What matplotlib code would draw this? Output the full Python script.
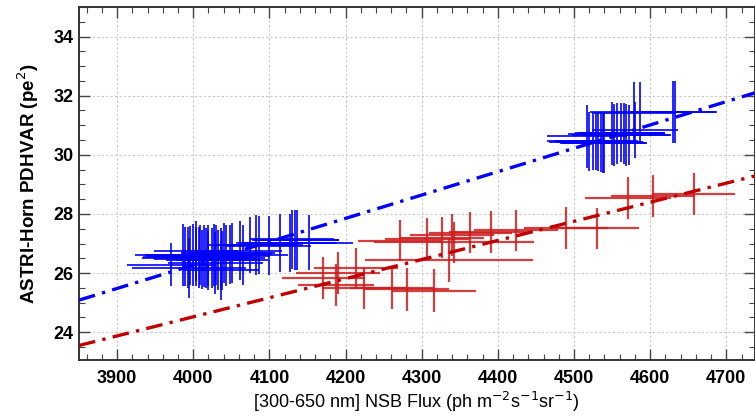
import numpy as np
import matplotlib
matplotlib.use("Agg")
import matplotlib.pyplot as plt

# ---------------- data ----------------
blue_x = [3971, 3986, 3989, 3993, 3994, 3996, 4000, 4003, 4004, 4007, 4009, 4011, 4014,
          4017, 4019, 4020, 4025, 4027, 4029, 4030, 4033, 4036, 4037, 4038, 4040, 4043,
          4048, 4051, 4061, 4066, 4075, 4083, 4086, 4099, 4114, 4127, 4130, 4134, 4136, 4152,
          4517, 4520, 4525, 4529, 4532, 4536, 4538, 4540, 4550, 4553, 4557, 4562, 4565,
          4568, 4572, 4579, 4580, 4587, 4630, 4632]
blue_y = [26.29, 26.61, 26.56, 26.52, 26.17, 26.58, 26.61, 26.75, 26.56, 26.52, 26.61, 26.47, 26.58,
          26.50, 26.58, 26.44, 26.50, 26.61, 26.35, 26.61, 26.44, 26.50, 26.10, 26.44, 26.67, 26.58,
          26.64, 26.67, 26.75, 26.61, 26.95, 26.95, 26.95, 26.92, 27.03, 27.03, 27.14, 27.12, 27.12, 27.03,
          30.63, 30.46, 30.44, 30.47, 30.44, 30.42, 30.41, 30.40, 30.72, 30.67, 30.73, 30.75, 30.73,
          30.67, 30.67, 31.40, 30.83, 31.44, 31.45, 31.45]
blue_xerr = [58, 62, 55, 60, 75, 57, 63, 55, 58, 60, 56, 62, 55,
             58, 60, 56, 58, 55, 62, 57, 55, 58, 50, 60, 56, 58,
             55, 57, 56, 58, 57, 55, 58, 56, 58, 60, 55, 57, 56, 58,
             53, 55, 58, 55, 56, 55, 57, 56, 58, 55, 56, 57, 55,
             58, 56, 55, 57, 66, 55, 56]
blue_yerr = [0.74, 1.05, 1.00, 1.03, 1.02, 1.00, 1.05, 1.02, 1.00, 1.03, 1.02, 1.00, 1.05,
             1.02, 1.03, 1.00, 1.02, 1.04, 1.05, 1.00, 1.02, 1.03, 1.00, 1.00, 1.02, 1.03,
             1.00, 1.02, 1.00, 1.02, 0.95, 1.00, 0.98, 1.00, 0.98, 0.98, 1.00, 1.00, 1.03, 0.92,
             1.07, 1.00, 0.95, 0.98, 0.98, 1.00, 1.02, 1.03, 1.05, 1.05, 1.03, 1.00, 1.03,
             1.05, 1.00, 1.05, 0.95, 1.03, 1.05, 1.05]

red_x = [4171, 4187, 4190, 4214, 4224, 4261, 4281, 4316, 4336, 4271, 4307, 4327,
         4340, 4343, 4364, 4391, 4424, 4489, 4530, 4571, 4604, 4657]
red_y = [25.83, 25.59, 26.00, 26.16, 25.49, 25.49, 25.45, 25.41, 26.43, 27.10, 27.15, 27.20,
         27.29, 27.04, 27.37, 27.39, 27.45, 27.52, 27.51, 28.54, 28.60, 28.66]
red_xerr = [55, 50, 55, 55, 55, 55, 55, 55, 110, 55, 55, 55,
            55, 105, 55, 55, 55, 55, 55, 57, 55, 55]
red_yerr = [0.70, 0.72, 0.70, 0.70, 0.72, 0.72, 0.72, 0.72, 0.72, 0.70, 0.70, 0.70,
            0.70, 0.70, 0.70, 0.70, 0.70, 0.70, 0.70, 0.71, 0.71, 0.71]

# linear fits (slope, value at x=4000)
blue_fit = (0.00790, 26.27)
red_fit = (0.00646, 24.52)

x_ticks = [3900, 4000, 4100, 4200, 4300, 4400, 4500, 4600, 4700]
y_ticks = [24, 26, 28, 30, 32, 34]

# ---------------- figure ----------------
plt.rcParams['font.family'] = ['Liberation Sans', 'DejaVu Sans']
fig = plt.figure(figsize=(7.55, 4.19), dpi=100)
ax = fig.add_axes([79 / 755, 1 - 360 / 419, (754.5 - 79) / 755, (360 - 7) / 419])

xlim = (3850, 4737)
ylim = (23.06, 35.0)

ax.grid(True, color='#c8c8c8', linestyle=(0, (2, 2)), linewidth=0.8, zorder=0)

ax.errorbar(red_x, red_y, xerr=red_xerr, yerr=red_yerr, fmt='none',
            ecolor='#cc1e1e', alpha=0.85, elinewidth=1.6, capsize=0, zorder=2)
ax.errorbar(blue_x, blue_y, xerr=blue_xerr, yerr=blue_yerr, fmt='none',
            ecolor='#0000ff', alpha=0.85, elinewidth=1.4, capsize=0, zorder=3)

xx = np.array(xlim)
ax.plot(xx, blue_fit[1] + blue_fit[0] * (xx - 4000), color='#0000ff',
        linestyle=(0, (5, 2.2, 1, 2.2)), linewidth=2.4, zorder=4)
ax.plot(xx, red_fit[1] + red_fit[0] * (xx - 4000), color='#c00000',
        linestyle=(0, (5, 2.2, 1, 2.2)), linewidth=2.4, zorder=4)

ax.set_xlim(*xlim)
ax.set_ylim(*ylim)
ax.set_xticks(x_ticks)
ax.set_yticks(y_ticks)
ax.set_xticks(np.arange(3860, 4740, 20), minor=True)
ax.set_yticks(np.arange(23.5, 35.01, 0.5), minor=True)
ax.tick_params(which='both', direction='in', top=True, right=True, colors='#444444',
               labelcolor='black', labelsize=13)
ax.tick_params(which='major', length=8, width=1.0)
ax.tick_params(which='minor', length=4, width=0.8)
ax.tick_params(axis='x', pad=7)
ax.tick_params(axis='y', pad=4)
for lab in ax.get_xticklabels() + ax.get_yticklabels():
    lab.set_fontweight('bold')
for sp in ax.spines.values():
    sp.set_color('#333333')
    sp.set_linewidth(1.4)

ax.set_xlabel(r'[300-650 nm] NSB Flux (ph m$^{-2}$s$^{-1}$sr$^{-1}$)', fontsize=13, labelpad=2)
ax.set_ylabel(r'ASTRI-Horn PDHVAR (pe$^{2}$)', fontsize=13.5, fontweight='bold', labelpad=9)

fig.savefig('out.png', dpi=100)
